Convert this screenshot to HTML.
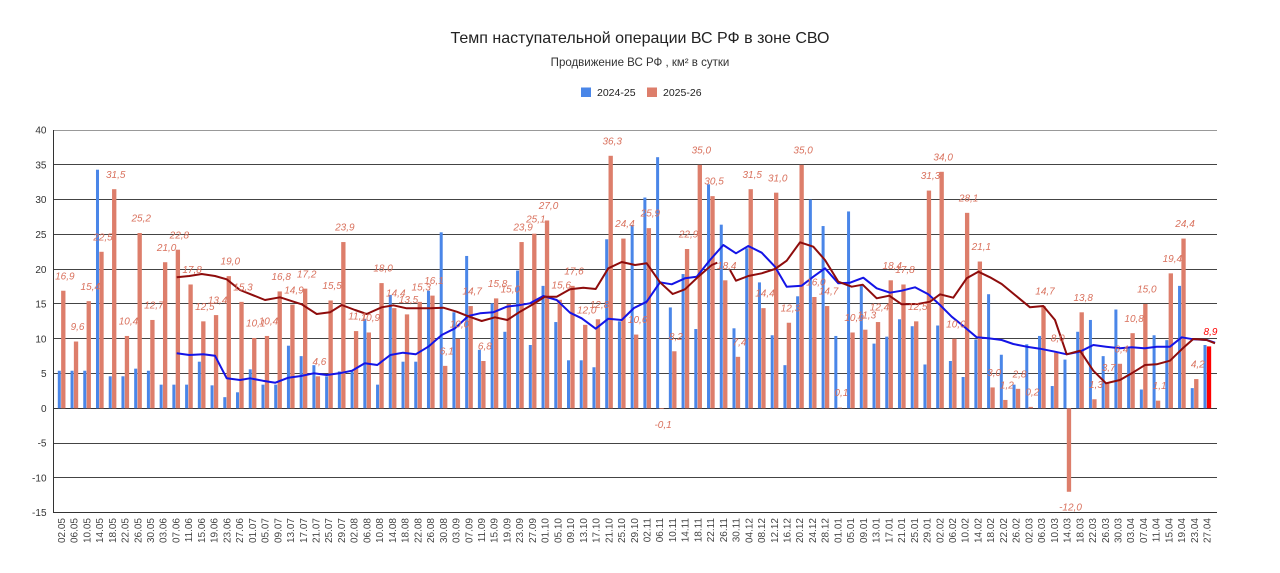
<!DOCTYPE html>
<html><head><meta charset="utf-8"><style>
html,body{margin:0;padding:0;background:#fff;}
svg{display:block;font-family:"Liberation Sans",Arial,sans-serif;}
</style></head><body>
<svg width="1280" height="573" viewBox="0 0 1280 573" xmlns="http://www.w3.org/2000/svg">
<rect width="1280" height="573" fill="#fff"/>
<text x="640" y="43" text-anchor="middle" font-size="16" fill="#222">Темп наступательной операции ВС РФ в зоне СВО</text>
<text x="640" y="66" text-anchor="middle" font-size="11.5" fill="#333">Продвижение ВС РФ , км² в сутки</text>
<rect x="581" y="87.5" width="10" height="9.5" fill="#4a86e8"/>
<text x="597" y="96" font-size="10.5" fill="#222">2024-25</text>
<rect x="647" y="87.5" width="10" height="9.5" fill="#dd7e6b"/>
<text x="663" y="96" font-size="10.5" fill="#222">2025-26</text>

<g stroke="#444" stroke-width="1">
<line x1="53" y1="130.5" x2="1217" y2="130.5" stroke="#999"/>
<line x1="53" y1="164.5" x2="1217" y2="164.5"/>
<line x1="53" y1="199.5" x2="1217" y2="199.5"/>
<line x1="53" y1="234.5" x2="1217" y2="234.5"/>
<line x1="53" y1="269.5" x2="1217" y2="269.5"/>
<line x1="53" y1="303.5" x2="1217" y2="303.5"/>
<line x1="53" y1="338.5" x2="1217" y2="338.5"/>
<line x1="53" y1="373.5" x2="1217" y2="373.5"/>
<line x1="53" y1="408.5" x2="1217" y2="408.5" stroke="#333"/>
<line x1="53" y1="443.5" x2="1217" y2="443.5"/>
<line x1="53" y1="477.5" x2="1217" y2="477.5"/>
<line x1="53" y1="512.5" x2="1217" y2="512.5" stroke="#333"/>
<line x1="53.5" y1="130" x2="53.5" y2="513" stroke="#333"/>
</g>
<g font-size="10" fill="#333" text-anchor="end">
<text x="46.5" y="133.6">40</text>
<text x="46.5" y="168.4">35</text>
<text x="46.5" y="203.2">30</text>
<text x="46.5" y="238">25</text>
<text x="46.5" y="272.8">20</text>
<text x="46.5" y="307.6">15</text>
<text x="46.5" y="342.3">10</text>
<text x="46.5" y="377.1">5</text>
<text x="46.5" y="411.9">0</text>
<text x="46.5" y="446.7">-5</text>
<text x="46.5" y="481.5">-10</text>
<text x="46.5" y="516.2">-15</text>
</g>

<!-- bars -->
<g transform="translate(59.3,408.3) scale(12.73,-6.956)">
<g transform="translate(-0.118,0)" fill="#4a86e8">
<rect x="0" y="0" width=".236" height="5.4"/><rect x="1" y="0" width=".236" height="5.4"/><rect x="2" y="0" width=".236" height="5.4"/><rect x="3" y="0" width=".236" height="34.3"/><rect x="4" y="0" width=".236" height="4.6"/><rect x="5" y="0" width=".236" height="4.6"/><rect x="6" y="0" width=".236" height="5.7"/><rect x="7" y="0" width=".236" height="5.4"/><rect x="8" y="0" width=".236" height="3.4"/><rect x="9" y="0" width=".236" height="3.4"/>
<rect x="10" y="0" width=".236" height="3.4"/><rect x="11" y="0" width=".236" height="6.7"/><rect x="12" y="0" width=".236" height="3.3"/><rect x="13" y="0" width=".236" height="1.6"/><rect x="14" y="0" width=".236" height="2.3"/><rect x="15" y="0" width=".236" height="5.6"/><rect x="16" y="0" width=".236" height="3.4"/><rect x="17" y="0" width=".236" height="3.4"/><rect x="18" y="0" width=".236" height="9.0"/><rect x="19" y="0" width=".236" height="7.5"/>
<rect x="20" y="0" width=".236" height="6.2"/><rect x="21" y="0" width=".236" height="4.6"/><rect x="22" y="0" width=".236" height="5.3"/><rect x="23" y="0" width=".236" height="5.3"/><rect x="24" y="0" width=".236" height="12.8"/><rect x="25" y="0" width=".236" height="3.4"/><rect x="26" y="0" width=".236" height="16.3"/><rect x="27" y="0" width=".236" height="6.7"/><rect x="28" y="0" width=".236" height="6.7"/><rect x="29" y="0" width=".236" height="16.9"/>
<rect x="30" y="0" width=".236" height="25.3"/><rect x="31" y="0" width=".236" height="13.8"/><rect x="32" y="0" width=".236" height="21.9"/><rect x="33" y="0" width=".236" height="8.4"/><rect x="34" y="0" width=".236" height="15.1"/><rect x="35" y="0" width=".236" height="11.0"/><rect x="36" y="0" width=".236" height="19.8"/><rect x="37" y="0" width=".236" height="9.1"/><rect x="38" y="0" width=".236" height="17.6"/><rect x="39" y="0" width=".236" height="12.4"/>
<rect x="40" y="0" width=".236" height="6.9"/><rect x="41" y="0" width=".236" height="6.9"/><rect x="42" y="0" width=".236" height="5.9"/><rect x="43" y="0" width=".236" height="24.3"/><rect x="44" y="0" width=".236" height="12.5"/><rect x="45" y="0" width=".236" height="26.3"/><rect x="46" y="0" width=".236" height="30.3"/><rect x="47" y="0" width=".236" height="36.1"/><rect x="48" y="0" width=".236" height="14.5"/><rect x="49" y="0" width=".236" height="19.3"/>
<rect x="50" y="0" width=".236" height="11.4"/><rect x="51" y="0" width=".236" height="32.2"/><rect x="52" y="0" width=".236" height="26.4"/><rect x="53" y="0" width=".236" height="11.5"/><rect x="54" y="0" width=".236" height="23.0"/><rect x="55" y="0" width=".236" height="18.1"/><rect x="56" y="0" width=".236" height="10.5"/><rect x="57" y="0" width=".236" height="6.2"/><rect x="58" y="0" width=".236" height="16.1"/><rect x="59" y="0" width=".236" height="30.0"/>
<rect x="60" y="0" width=".236" height="26.2"/><rect x="61" y="0" width=".236" height="10.4"/><rect x="62" y="0" width=".236" height="28.3"/><rect x="63" y="0" width=".236" height="17.7"/><rect x="64" y="0" width=".236" height="9.3"/><rect x="65" y="0" width=".236" height="10.3"/><rect x="66" y="0" width=".236" height="12.8"/><rect x="67" y="0" width=".236" height="11.8"/><rect x="68" y="0" width=".236" height="6.3"/><rect x="69" y="0" width=".236" height="11.9"/>
<rect x="70" y="0" width=".236" height="6.8"/><rect x="71" y="0" width=".236" height="4.5"/><rect x="72" y="0" width=".236" height="9.9"/><rect x="73" y="0" width=".236" height="16.4"/><rect x="74" y="0" width=".236" height="7.7"/><rect x="75" y="0" width=".236" height="3.4"/><rect x="76" y="0" width=".236" height="9.2"/><rect x="77" y="0" width=".236" height="10.4"/><rect x="78" y="0" width=".236" height="3.2"/><rect x="79" y="0" width=".236" height="7.0"/>
<rect x="80" y="0" width=".236" height="11.0"/><rect x="81" y="0" width=".236" height="12.7"/><rect x="82" y="0" width=".236" height="7.5"/><rect x="83" y="0" width=".236" height="14.2"/><rect x="84" y="0" width=".236" height="8.6"/><rect x="85" y="0" width=".236" height="2.7"/><rect x="86" y="0" width=".236" height="10.5"/><rect x="87" y="0" width=".236" height="9.8"/><rect x="88" y="0" width=".236" height="17.6"/><rect x="89" y="0" width=".236" height="2.9"/>
<rect x="90" y="0" width=".236" height="9.1"/>
</g>
<g transform="translate(0.144,0)" fill="#dd7e6b">
<rect x="0" y="0" width=".34" height="16.9"/><rect x="1" y="0" width=".34" height="9.6"/><rect x="2" y="0" width=".34" height="15.4"/><rect x="3" y="0" width=".34" height="22.5"/><rect x="4" y="0" width=".34" height="31.5"/><rect x="5" y="0" width=".34" height="10.4"/><rect x="6" y="0" width=".34" height="25.2"/><rect x="7" y="0" width=".34" height="12.7"/><rect x="8" y="0" width=".34" height="21.0"/><rect x="9" y="0" width=".34" height="22.8"/>
<rect x="10" y="0" width=".34" height="17.8"/><rect x="11" y="0" width=".34" height="12.5"/><rect x="12" y="0" width=".34" height="13.4"/><rect x="13" y="0" width=".34" height="19.0"/><rect x="14" y="0" width=".34" height="15.3"/><rect x="15" y="0" width=".34" height="10.1"/><rect x="16" y="0" width=".34" height="10.4"/><rect x="17" y="0" width=".34" height="16.8"/><rect x="18" y="0" width=".34" height="14.9"/><rect x="19" y="0" width=".34" height="17.2"/>
<rect x="20" y="0" width=".34" height="4.6"/><rect x="21" y="0" width=".34" height="15.5"/><rect x="22" y="0" width=".34" height="23.9"/><rect x="23" y="0" width=".34" height="11.1"/><rect x="24" y="0" width=".34" height="10.9"/><rect x="25" y="0" width=".34" height="18.0"/><rect x="26" y="0" width=".34" height="14.4"/><rect x="27" y="0" width=".34" height="13.5"/><rect x="28" y="0" width=".34" height="15.3"/><rect x="29" y="0" width=".34" height="16.2"/>
<rect x="30" y="0" width=".34" height="6.1"/><rect x="31" y="0" width=".34" height="10.0"/><rect x="32" y="0" width=".34" height="14.7"/><rect x="33" y="0" width=".34" height="6.8"/><rect x="34" y="0" width=".34" height="15.8"/><rect x="35" y="0" width=".34" height="15.0"/><rect x="36" y="0" width=".34" height="23.9"/><rect x="37" y="0" width=".34" height="25.1"/><rect x="38" y="0" width=".34" height="27.0"/><rect x="39" y="0" width=".34" height="15.6"/>
<rect x="40" y="0" width=".34" height="17.6"/><rect x="41" y="0" width=".34" height="12.0"/><rect x="42" y="0" width=".34" height="12.8"/><rect x="43" y="0" width=".34" height="36.3"/><rect x="44" y="0" width=".34" height="24.4"/><rect x="45" y="0" width=".34" height="10.6"/><rect x="46" y="0" width=".34" height="25.9"/><rect x="47" y="-0.1" width=".34" height="0.1"/><rect x="48" y="0" width=".34" height="8.2"/><rect x="49" y="0" width=".34" height="22.9"/>
<rect x="50" y="0" width=".34" height="35.0"/><rect x="51" y="0" width=".34" height="30.5"/><rect x="52" y="0" width=".34" height="18.4"/><rect x="53" y="0" width=".34" height="7.4"/><rect x="54" y="0" width=".34" height="31.5"/><rect x="55" y="0" width=".34" height="14.4"/><rect x="56" y="0" width=".34" height="31.0"/><rect x="57" y="0" width=".34" height="12.3"/><rect x="58" y="0" width=".34" height="35.0"/><rect x="59" y="0" width=".34" height="16.0"/>
<rect x="60" y="0" width=".34" height="14.7"/><rect x="61" y="0" width=".34" height="0.1"/><rect x="62" y="0" width=".34" height="10.9"/><rect x="63" y="0" width=".34" height="11.3"/><rect x="64" y="0" width=".34" height="12.4"/><rect x="65" y="0" width=".34" height="18.4"/><rect x="66" y="0" width=".34" height="17.8"/><rect x="67" y="0" width=".34" height="12.5"/><rect x="68" y="0" width=".34" height="31.3"/><rect x="69" y="0" width=".34" height="34.0"/>
<rect x="70" y="0" width=".34" height="10.0"/><rect x="71" y="0" width=".34" height="28.1"/><rect x="72" y="0" width=".34" height="21.1"/><rect x="73" y="0" width=".34" height="3.0"/><rect x="74" y="0" width=".34" height="1.2"/><rect x="75" y="0" width=".34" height="2.8"/><rect x="76" y="0" width=".34" height="0.2"/><rect x="77" y="0" width=".34" height="14.7"/><rect x="78" y="0" width=".34" height="8.0"/><rect x="79" y="-12" width=".34" height="12"/>
<rect x="80" y="0" width=".34" height="13.8"/><rect x="81" y="0" width=".34" height="1.3"/><rect x="82" y="0" width=".34" height="3.7"/><rect x="83" y="0" width=".34" height="6.4"/><rect x="84" y="0" width=".34" height="10.8"/><rect x="85" y="0" width=".34" height="15.0"/><rect x="86" y="0" width=".34" height="1.1"/><rect x="87" y="0" width=".34" height="19.4"/><rect x="88" y="0" width=".34" height="24.4"/><rect x="89" y="0" width=".34" height="4.2"/>
<rect x="90" y="0" width=".34" height="8.9" fill="#ff0000"/>
</g>
</g>

<!-- moving averages -->
<polyline fill="none" stroke="#1414e6" stroke-width="2" stroke-linejoin="round" points="176.7,353.3 189.3,355 203.3,354.3 215,355.7 226.7,378.3 240,380 250,378.3 262.7,380.7 275.3,382.7 288.3,377.7 301,376 313.7,373.3 326.7,375 339.3,373.3 352,370.7 364.7,363.3 377.3,365 390.3,355 403,352.7 415.7,354.3 428.3,346.7 441.7,335 455,328.3 468.3,316 480,313.3 493.3,312.3 506.7,306.7 518.3,305.3 530,303.3 543.3,296 556.7,300 570,312.7 581.7,318.3 595.7,328.7 608.3,318.7 621.7,320 634,308 646.7,301.7 660,282.3 671.7,284.3 685,278.3 696.7,276.7 710,260 723.3,245 736,253.3 748.3,246 761.7,252.7 775,266.7 786.7,286.7 801.7,285.7 813.3,276.7 825,268.3 838.3,283.3 850,282.7 863.3,277.7 876.7,288.3 890,292.7 901.7,290.7 915,287.3 928.3,294.3 940,305 951.7,316.7 963.3,326 976.7,337.3 988.3,338.3 1001.7,340 1013.3,344 1026.7,346.7 1040,348.7 1055,351.7 1066.7,354.3 1080,351.7 1093.3,345 1106,346.7 1120,348.3 1131.7,347.3 1145,348.3 1156.7,346.7 1170,346.7 1181.7,337.3 1193.3,339.3 1206.7,340 1215,342.7"/>
<polyline fill="none" stroke="#8e0c0c" stroke-width="2" stroke-linejoin="round" points="176.7,277.3 189.3,276 201.7,274 215,276 226.7,279.3 240,290 265,300 280,297.3 301.7,304.3 316.7,314 330,312.3 341.7,305 355,310 366.7,314 381.7,307.3 393.3,305.3 406.7,308.3 430,308.3 443.3,307.7 456.7,311.7 469.3,316.7 481.7,321 495,317.3 507.3,320 520,311.7 531.7,305 545,296.7 556.7,296.7 570,289.3 583.3,287.7 595.7,289 608.3,268.3 621.7,262 635,265 646.7,263.3 660,282.3 672.7,294 685,289.3 698.3,276.7 711.7,265 717.3,262.7"/>
<polyline fill="none" stroke="#8e0c0c" stroke-width="2" stroke-linejoin="round" points="730,270 736,280.7 748.3,276 761.7,273.3 775,269 786.7,260.7 800,242.3 813.3,246.7 825,260 838.3,281.7 851.7,286.7 862.7,284.7 876.7,298.3 889.3,295.7 901.7,304.3 918,304 930,301.7 940,294.3 953.3,297.7 966.7,278.3 978.3,271.7 990,277.3 1001.7,284 1015,295 1030,307.3 1043.3,306 1055,320 1066.7,354.3 1080,350.7 1093.3,370.7 1106,383.3 1120,380 1131.7,373.3 1145,365 1156.7,364.3 1170,360.7 1181.7,349.3 1193.3,339 1206.7,340 1215,343.3"/>

<!-- data labels -->
<g transform="translate(64.8,396.9) scale(12.73,-6.956)" font-size="10" font-style="italic" fill="#d9715d" text-anchor="middle">
<text transform="translate(0,16.9) scale(.078555,-.143761)">16,9</text>
<text transform="translate(1,9.6) scale(.078555,-.143761)">9,6</text>
<text transform="translate(2,15.4) scale(.078555,-.143761)">15,4</text>
<text transform="translate(3,22.5) scale(.078555,-.143761)">22,5</text>
<text transform="translate(4,31.5) scale(.078555,-.143761)">31,5</text>
<text transform="translate(5,10.4) scale(.078555,-.143761)">10,4</text>
<text transform="translate(6,25.2) scale(.078555,-.143761)">25,2</text>
<text transform="translate(7,12.7) scale(.078555,-.143761)">12,7</text>
<text transform="translate(8,21.0) scale(.078555,-.143761)">21,0</text>
<text transform="translate(9,22.8) scale(.078555,-.143761)">22,8</text>
<text transform="translate(10,17.8) scale(.078555,-.143761)">17,8</text>
<text transform="translate(11,12.5) scale(.078555,-.143761)">12,5</text>
<text transform="translate(12,13.4) scale(.078555,-.143761)">13,4</text>
<text transform="translate(13,19.0) scale(.078555,-.143761)">19,0</text>
<text transform="translate(14,15.3) scale(.078555,-.143761)">15,3</text>
<text transform="translate(15,10.1) scale(.078555,-.143761)">10,1</text>
<text transform="translate(16,10.4) scale(.078555,-.143761)">10,4</text>
<text transform="translate(17,16.8) scale(.078555,-.143761)">16,8</text>
<text transform="translate(18,14.9) scale(.078555,-.143761)">14,9</text>
<text transform="translate(19,17.2) scale(.078555,-.143761)">17,2</text>
<text transform="translate(20,4.6) scale(.078555,-.143761)">4,6</text>
<text transform="translate(21,15.5) scale(.078555,-.143761)">15,5</text>
<text transform="translate(22,23.9) scale(.078555,-.143761)">23,9</text>
<text transform="translate(23,11.1) scale(.078555,-.143761)">11,1</text>
<text transform="translate(24,10.9) scale(.078555,-.143761)">10,9</text>
<text transform="translate(25,18.0) scale(.078555,-.143761)">18,0</text>
<text transform="translate(26,14.4) scale(.078555,-.143761)">14,4</text>
<text transform="translate(27,13.5) scale(.078555,-.143761)">13,5</text>
<text transform="translate(28,15.3) scale(.078555,-.143761)">15,3</text>
<text transform="translate(29,16.2) scale(.078555,-.143761)">16,1</text>
<text transform="translate(30,6.1) scale(.078555,-.143761)">6,1</text>
<text transform="translate(31,10.0) scale(.078555,-.143761)">10,0</text>
<text transform="translate(32,14.7) scale(.078555,-.143761)">14,7</text>
<text transform="translate(33,6.8) scale(.078555,-.143761)">6,8</text>
<text transform="translate(34,15.8) scale(.078555,-.143761)">15,8</text>
<text transform="translate(35,15.0) scale(.078555,-.143761)">15,0</text>
<text transform="translate(36,23.9) scale(.078555,-.143761)">23,9</text>
<text transform="translate(37,25.1) scale(.078555,-.143761)">25,1</text>
<text transform="translate(38,27.0) scale(.078555,-.143761)">27,0</text>
<text transform="translate(39,15.6) scale(.078555,-.143761)">15,6</text>
<text transform="translate(40,17.6) scale(.078555,-.143761)">17,6</text>
<text transform="translate(41,12.0) scale(.078555,-.143761)">12,0</text>
<text transform="translate(42,12.8) scale(.078555,-.143761)">12,8</text>
<text transform="translate(43,36.3) scale(.078555,-.143761)">36,3</text>
<text transform="translate(44,24.4) scale(.078555,-.143761)">24,4</text>
<text transform="translate(45,10.6) scale(.078555,-.143761)">10,6</text>
<text transform="translate(46,25.9) scale(.078555,-.143761)">25,9</text>
<text transform="translate(48,8.2) scale(.078555,-.143761)">8,2</text>
<text transform="translate(49,22.9) scale(.078555,-.143761)">22,9</text>
<text transform="translate(50,35.0) scale(.078555,-.143761)">35,0</text>
<text transform="translate(51,30.5) scale(.078555,-.143761)">30,5</text>
<text transform="translate(52,18.4) scale(.078555,-.143761)">18,4</text>
<text transform="translate(53,7.4) scale(.078555,-.143761)">7,4</text>
<text transform="translate(54,31.5) scale(.078555,-.143761)">31,5</text>
<text transform="translate(55,14.4) scale(.078555,-.143761)">14,4</text>
<text transform="translate(56,31.0) scale(.078555,-.143761)">31,0</text>
<text transform="translate(57,12.3) scale(.078555,-.143761)">12,3</text>
<text transform="translate(58,35.0) scale(.078555,-.143761)">35,0</text>
<text transform="translate(59,16.0) scale(.078555,-.143761)">16,0</text>
<text transform="translate(60,14.7) scale(.078555,-.143761)">14,7</text>
<text transform="translate(61,0.1) scale(.078555,-.143761)">0,1</text>
<text transform="translate(62,10.9) scale(.078555,-.143761)">10,9</text>
<text transform="translate(63,11.3) scale(.078555,-.143761)">11,3</text>
<text transform="translate(64,12.4) scale(.078555,-.143761)">12,4</text>
<text transform="translate(65,18.4) scale(.078555,-.143761)">18,4</text>
<text transform="translate(66,17.8) scale(.078555,-.143761)">17,8</text>
<text transform="translate(67,12.5) scale(.078555,-.143761)">12,5</text>
<text transform="translate(68,31.3) scale(.078555,-.143761)">31,3</text>
<text transform="translate(69,34.0) scale(.078555,-.143761)">34,0</text>
<text transform="translate(70,10.0) scale(.078555,-.143761)">10,0</text>
<text transform="translate(71,28.1) scale(.078555,-.143761)">28,1</text>
<text transform="translate(72,21.1) scale(.078555,-.143761)">21,1</text>
<text transform="translate(73,3.0) scale(.078555,-.143761)">3,0</text>
<text transform="translate(74,1.2) scale(.078555,-.143761)">1,2</text>
<text transform="translate(75,2.8) scale(.078555,-.143761)">2,8</text>
<text transform="translate(76,0.2) scale(.078555,-.143761)">0,2</text>
<text transform="translate(77,14.7) scale(.078555,-.143761)">14,7</text>
<text transform="translate(78,8.0) scale(.078555,-.143761)">8,0</text>
<text transform="translate(80,13.8) scale(.078555,-.143761)">13,8</text>
<text transform="translate(81,1.3) scale(.078555,-.143761)">1,3</text>
<text transform="translate(82,3.7) scale(.078555,-.143761)">3,7</text>
<text transform="translate(83,6.4) scale(.078555,-.143761)">6,4</text>
<text transform="translate(84,10.8) scale(.078555,-.143761)">10,8</text>
<text transform="translate(85,15.0) scale(.078555,-.143761)">15,0</text>
<text transform="translate(86,1.1) scale(.078555,-.143761)">1,1</text>
<text transform="translate(87,19.4) scale(.078555,-.143761)">19,4</text>
<text transform="translate(88,24.4) scale(.078555,-.143761)">24,4</text>
<text transform="translate(89,4.2) scale(.078555,-.143761)">4,2</text>
<text transform="translate(90,8.9) scale(.078555,-.143761)" fill="#f00">8,9</text>
</g>
<g font-size="10" font-style="italic" fill="#d9715d" text-anchor="middle">
<text x="663.1" y="428">-0,1</text>
<text x="1070.5" y="510.5">-12,0</text>
</g>

<!-- x labels -->
<g transform="translate(61.3,518) scale(12.73,1)" font-size="10" fill="#444" text-anchor="end">
<text transform="translate(0,0) scale(.078555,1) rotate(-90)" y="3.6">02.05</text>
<text transform="translate(1,0) scale(.078555,1) rotate(-90)" y="3.6">06.05</text>
<text transform="translate(2,0) scale(.078555,1) rotate(-90)" y="3.6">10.05</text>
<text transform="translate(3,0) scale(.078555,1) rotate(-90)" y="3.6">14.05</text>
<text transform="translate(4,0) scale(.078555,1) rotate(-90)" y="3.6">18.05</text>
<text transform="translate(5,0) scale(.078555,1) rotate(-90)" y="3.6">22.05</text>
<text transform="translate(6,0) scale(.078555,1) rotate(-90)" y="3.6">26.05</text>
<text transform="translate(7,0) scale(.078555,1) rotate(-90)" y="3.6">30.05</text>
<text transform="translate(8,0) scale(.078555,1) rotate(-90)" y="3.6">03.06</text>
<text transform="translate(9,0) scale(.078555,1) rotate(-90)" y="3.6">07.06</text>
<text transform="translate(10,0) scale(.078555,1) rotate(-90)" y="3.6">11.06</text>
<text transform="translate(11,0) scale(.078555,1) rotate(-90)" y="3.6">15.06</text>
<text transform="translate(12,0) scale(.078555,1) rotate(-90)" y="3.6">19.06</text>
<text transform="translate(13,0) scale(.078555,1) rotate(-90)" y="3.6">23.06</text>
<text transform="translate(14,0) scale(.078555,1) rotate(-90)" y="3.6">27.06</text>
<text transform="translate(15,0) scale(.078555,1) rotate(-90)" y="3.6">01.07</text>
<text transform="translate(16,0) scale(.078555,1) rotate(-90)" y="3.6">05.07</text>
<text transform="translate(17,0) scale(.078555,1) rotate(-90)" y="3.6">09.07</text>
<text transform="translate(18,0) scale(.078555,1) rotate(-90)" y="3.6">13.07</text>
<text transform="translate(19,0) scale(.078555,1) rotate(-90)" y="3.6">17.07</text>
<text transform="translate(20,0) scale(.078555,1) rotate(-90)" y="3.6">21.07</text>
<text transform="translate(21,0) scale(.078555,1) rotate(-90)" y="3.6">25.07</text>
<text transform="translate(22,0) scale(.078555,1) rotate(-90)" y="3.6">29.07</text>
<text transform="translate(23,0) scale(.078555,1) rotate(-90)" y="3.6">02.08</text>
<text transform="translate(24,0) scale(.078555,1) rotate(-90)" y="3.6">06.08</text>
<text transform="translate(25,0) scale(.078555,1) rotate(-90)" y="3.6">10.08</text>
<text transform="translate(26,0) scale(.078555,1) rotate(-90)" y="3.6">14.08</text>
<text transform="translate(27,0) scale(.078555,1) rotate(-90)" y="3.6">18.08</text>
<text transform="translate(28,0) scale(.078555,1) rotate(-90)" y="3.6">22.08</text>
<text transform="translate(29,0) scale(.078555,1) rotate(-90)" y="3.6">26.08</text>
<text transform="translate(30,0) scale(.078555,1) rotate(-90)" y="3.6">30.08</text>
<text transform="translate(31,0) scale(.078555,1) rotate(-90)" y="3.6">03.09</text>
<text transform="translate(32,0) scale(.078555,1) rotate(-90)" y="3.6">07.09</text>
<text transform="translate(33,0) scale(.078555,1) rotate(-90)" y="3.6">11.09</text>
<text transform="translate(34,0) scale(.078555,1) rotate(-90)" y="3.6">15.09</text>
<text transform="translate(35,0) scale(.078555,1) rotate(-90)" y="3.6">19.09</text>
<text transform="translate(36,0) scale(.078555,1) rotate(-90)" y="3.6">23.09</text>
<text transform="translate(37,0) scale(.078555,1) rotate(-90)" y="3.6">27.09</text>
<text transform="translate(38,0) scale(.078555,1) rotate(-90)" y="3.6">01.10</text>
<text transform="translate(39,0) scale(.078555,1) rotate(-90)" y="3.6">05.10</text>
<text transform="translate(40,0) scale(.078555,1) rotate(-90)" y="3.6">09.10</text>
<text transform="translate(41,0) scale(.078555,1) rotate(-90)" y="3.6">13.10</text>
<text transform="translate(42,0) scale(.078555,1) rotate(-90)" y="3.6">17.10</text>
<text transform="translate(43,0) scale(.078555,1) rotate(-90)" y="3.6">21.10</text>
<text transform="translate(44,0) scale(.078555,1) rotate(-90)" y="3.6">25.10</text>
<text transform="translate(45,0) scale(.078555,1) rotate(-90)" y="3.6">29.10</text>
<text transform="translate(46,0) scale(.078555,1) rotate(-90)" y="3.6">02.11</text>
<text transform="translate(47,0) scale(.078555,1) rotate(-90)" y="3.6">06.11</text>
<text transform="translate(48,0) scale(.078555,1) rotate(-90)" y="3.6">10.11</text>
<text transform="translate(49,0) scale(.078555,1) rotate(-90)" y="3.6">14.11</text>
<text transform="translate(50,0) scale(.078555,1) rotate(-90)" y="3.6">18.11</text>
<text transform="translate(51,0) scale(.078555,1) rotate(-90)" y="3.6">22.11</text>
<text transform="translate(52,0) scale(.078555,1) rotate(-90)" y="3.6">26.11</text>
<text transform="translate(53,0) scale(.078555,1) rotate(-90)" y="3.6">30.11</text>
<text transform="translate(54,0) scale(.078555,1) rotate(-90)" y="3.6">04.12</text>
<text transform="translate(55,0) scale(.078555,1) rotate(-90)" y="3.6">08.12</text>
<text transform="translate(56,0) scale(.078555,1) rotate(-90)" y="3.6">12.12</text>
<text transform="translate(57,0) scale(.078555,1) rotate(-90)" y="3.6">16.12</text>
<text transform="translate(58,0) scale(.078555,1) rotate(-90)" y="3.6">20.12</text>
<text transform="translate(59,0) scale(.078555,1) rotate(-90)" y="3.6">24.12</text>
<text transform="translate(60,0) scale(.078555,1) rotate(-90)" y="3.6">28.12</text>
<text transform="translate(61,0) scale(.078555,1) rotate(-90)" y="3.6">01.01</text>
<text transform="translate(62,0) scale(.078555,1) rotate(-90)" y="3.6">05.01</text>
<text transform="translate(63,0) scale(.078555,1) rotate(-90)" y="3.6">09.01</text>
<text transform="translate(64,0) scale(.078555,1) rotate(-90)" y="3.6">13.01</text>
<text transform="translate(65,0) scale(.078555,1) rotate(-90)" y="3.6">17.01</text>
<text transform="translate(66,0) scale(.078555,1) rotate(-90)" y="3.6">21.01</text>
<text transform="translate(67,0) scale(.078555,1) rotate(-90)" y="3.6">25.01</text>
<text transform="translate(68,0) scale(.078555,1) rotate(-90)" y="3.6">29.01</text>
<text transform="translate(69,0) scale(.078555,1) rotate(-90)" y="3.6">02.02</text>
<text transform="translate(70,0) scale(.078555,1) rotate(-90)" y="3.6">06.02</text>
<text transform="translate(71,0) scale(.078555,1) rotate(-90)" y="3.6">10.02</text>
<text transform="translate(72,0) scale(.078555,1) rotate(-90)" y="3.6">14.02</text>
<text transform="translate(73,0) scale(.078555,1) rotate(-90)" y="3.6">18.02</text>
<text transform="translate(74,0) scale(.078555,1) rotate(-90)" y="3.6">22.02</text>
<text transform="translate(75,0) scale(.078555,1) rotate(-90)" y="3.6">26.02</text>
<text transform="translate(76,0) scale(.078555,1) rotate(-90)" y="3.6">02.03</text>
<text transform="translate(77,0) scale(.078555,1) rotate(-90)" y="3.6">06.03</text>
<text transform="translate(78,0) scale(.078555,1) rotate(-90)" y="3.6">10.03</text>
<text transform="translate(79,0) scale(.078555,1) rotate(-90)" y="3.6">14.03</text>
<text transform="translate(80,0) scale(.078555,1) rotate(-90)" y="3.6">18.03</text>
<text transform="translate(81,0) scale(.078555,1) rotate(-90)" y="3.6">22.03</text>
<text transform="translate(82,0) scale(.078555,1) rotate(-90)" y="3.6">26.03</text>
<text transform="translate(83,0) scale(.078555,1) rotate(-90)" y="3.6">30.03</text>
<text transform="translate(84,0) scale(.078555,1) rotate(-90)" y="3.6">03.04</text>
<text transform="translate(85,0) scale(.078555,1) rotate(-90)" y="3.6">07.04</text>
<text transform="translate(86,0) scale(.078555,1) rotate(-90)" y="3.6">11.04</text>
<text transform="translate(87,0) scale(.078555,1) rotate(-90)" y="3.6">15.04</text>
<text transform="translate(88,0) scale(.078555,1) rotate(-90)" y="3.6">19.04</text>
<text transform="translate(89,0) scale(.078555,1) rotate(-90)" y="3.6">23.04</text>
<text transform="translate(90,0) scale(.078555,1) rotate(-90)" y="3.6">27.04</text>
</g>
</svg>
</body></html>
